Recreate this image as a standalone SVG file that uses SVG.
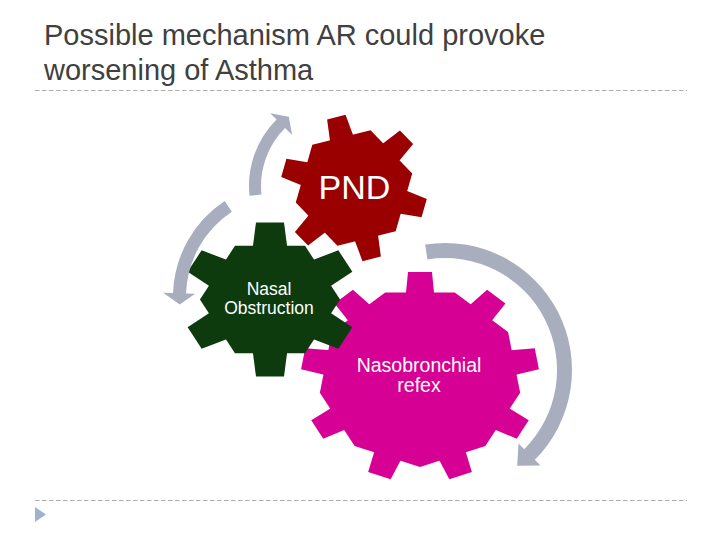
<svg xmlns="http://www.w3.org/2000/svg" width="720" height="540" viewBox="0 0 720 540">
  <defs>
    <style>
      .title { font-family: "Liberation Sans", Arial, sans-serif; font-size: 29px; fill: #404040; }
      .lbl { font-family: "Liberation Sans", Arial, sans-serif; fill: #ffffff; text-anchor: middle; }
      .rule { stroke: #ADADAD; stroke-width: 1; stroke-dasharray: 4.5 2.5; fill: none; }
      .arrow { fill: #A9AEBF; }
    </style>
    <polygon id="toothS" points="-12.5,-46 12.5,-46 9.5,-73 -9.5,-73"/>
    <polygon id="toothG" points="-15.5,-50 15.5,-50 12.4,-77 -12.4,-77"/>
    <polygon id="toothM" points="-12.8,-80 12.8,-80 10.6,-105 -10.6,-105"/>
  </defs>

  <rect width="720" height="540" fill="#ffffff"/>

  <text class="title" x="44" y="44.5">Possible mechanism AR could provoke</text>
  <text class="title" x="44" y="79.5">worsening of Asthma</text>
  <line class="rule" x1="35" y1="90.5" x2="687" y2="90.5"/>
  <line class="rule" x1="35" y1="500.5" x2="687" y2="500.5"/>
  <polygon points="35,507 35,522 46,514.5" fill="#9FB4CC"/>

  <g id="gear-nasobronchial">
    <g transform="translate(420,377) scale(1.13,1)" fill="#D60094">
      <polygon points="30.78,-84.57 77.94,-45 88.63,15.63 57.85,68.94 0,90 -57.85,68.94 -88.63,15.63 -77.94,-45 -30.78,-84.57"/>
      <use href="#toothM"/>
      <use href="#toothM" transform="rotate(40)"/>
      <use href="#toothM" transform="rotate(80)"/>
      <use href="#toothM" transform="rotate(120)"/>
      <use href="#toothM" transform="rotate(160)"/>
      <use href="#toothM" transform="rotate(200)"/>
      <use href="#toothM" transform="rotate(240)"/>
      <use href="#toothM" transform="rotate(280)"/>
      <use href="#toothM" transform="rotate(320)"/>
    </g>
    <text class="lbl" x="419" y="371.5" font-size="19.5">Nasobronchial</text>
    <text class="lbl" x="419" y="391.5" font-size="19.5">refex</text>
  </g>

  <g id="gear-nasal">
    <g transform="translate(270,299.5) scale(1.13,1)" fill="#0D3B0D">
      <polygon points="31,-53.69 62,0 31,53.69 -31,53.69 -62,0 -31,-53.69"/>
      <use href="#toothG"/>
      <use href="#toothG" transform="rotate(60)"/>
      <use href="#toothG" transform="rotate(120)"/>
      <use href="#toothG" transform="rotate(180)"/>
      <use href="#toothG" transform="rotate(240)"/>
      <use href="#toothG" transform="rotate(300)"/>
    </g>
    <text class="lbl" x="269" y="294.5" font-size="17.5">Nasal</text>
    <text class="lbl" x="269" y="313.5" font-size="17.5">Obstruction</text>
  </g>

  <g id="gear-pnd">
    <g transform="translate(354,188) rotate(-14)" fill="#9A0000">
      <polygon points="30,-51.96 60,0 30,51.96 -30,51.96 -60,0 -30,-51.96"/>
      <use href="#toothS"/>
      <use href="#toothS" transform="rotate(60)"/>
      <use href="#toothS" transform="rotate(120)"/>
      <use href="#toothS" transform="rotate(180)"/>
      <use href="#toothS" transform="rotate(240)"/>
      <use href="#toothS" transform="rotate(300)"/>
    </g>
    <text class="lbl" x="354.5" y="199" font-size="34">PND</text>
  </g>

  <g id="connectors">
    <path class="arrow" d="M249.51,195.83 A94,94 0 0 1 276.53,119.53 L270.17,113.17 L288.82,116.66 L292.09,135.09 L285.02,128.02 A82,82 0 0 0 261.45,194.57 Z"/>
    <path class="arrow" d="M224.69,200.99 A115,115 0 0 0 173.07,292.99 L163.08,292.64 L179.76,304.57 L195.06,293.75 L186.06,293.44 A102,102 0 0 1 231.85,211.85 Z"/>
    <path class="arrow" d="M425.13,244.56 A127,127 0 0 1 534.80,459.80 L540.46,465.46 L517.2,465.8 L518.54,443.54 L524.20,449.20 A112,112 0 0 0 427.48,259.38 Z"/>
  </g>
</svg>
